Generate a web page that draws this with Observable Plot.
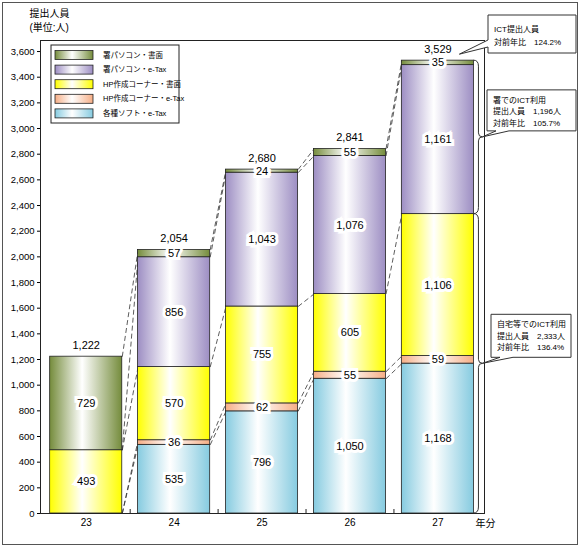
<!DOCTYPE html>
<html><head><meta charset="utf-8">
<script src="https://cdn.jsdelivr.net/npm/d3@7"></script>
<script src="https://cdn.jsdelivr.net/npm/@observablehq/plot@0.6"></script>
<style>
body{margin:0;background:#fff;}
#chart svg{display:block;outline:1px solid #555;outline-offset:-3px;}
</style></head><body><div id="chart"></div>
<script>
// ---- data ----
const years = [23, 24, 25, 26, 27];
const seriesNames = ["各種ソフト・e-Tax", "HP作成コーナー・e-Tax", "HP作成コーナー・書面", "署パソコン・e-Tax", "署パソコン・書面"];
const softETax = [0, 535, 796, 1050, 1168];
const hpETax   = [0, 36, 62, 55, 59];
const hpPaper  = [493, 570, 755, 605, 1106];
const pcETax   = [0, 856, 1043, 1076, 1161];
const pcPaper  = [729, 57, 24, 55, 35];
const totals   = [1222, 2054, 2680, 2841, 3529];
const seriesColors = ["#86cbe0", "#f6ae86", "#ffff00", "#9d8ec3", "#758c3c"];
const yTicks = d3.range(0, 3601, 200);
const yTitle = "提出人員\n(単位:人)";
const xUnit = "年分";
const callouts = [
  ["ICT提出人員", "対前年比\u3000124.2%"],
  ["署でのICT利用", "提出人員\u30001,196人", "対前年比\u3000105.7%"],
  ["自宅等でのICT利用", "提出人員\u30002,333人", "対前年比\u3000136.4%"]
];

const seriesValues = [softETax, hpETax, hpPaper, pcETax, pcPaper];
const FONT = "'Liberation Sans', 'Noto Sans CJK JP', sans-serif";
const HALF = 0.41;
const fmt = d3.format(",");

// stacked segments
const rows = [];
const tops = seriesValues.map(() => []);
years.forEach((yr, i) => {
  let cum = 0;
  seriesValues.forEach((vals, k) => {
    const v = vals[i];
    rows.push({year: yr, k, value: v, y1: cum, y2: cum + v});
    cum += v;
    tops[k][i] = cum;
  });
});
const segs = rows.filter(d => d.value > 0);
const links = [];
seriesValues.forEach((_, k) => {
  for (let i = 0; i < years.length - 1; i++) {
    links.push({x1: years[i] + HALF, x2: years[i + 1] - HALF, y1: tops[k][i], y2: tops[k][i + 1]});
  }
});
const totalRows = years.map((yr, i) => ({year: yr, total: totals[i]}));

function annotations(index, scales, values, dims) {
  const {x, y} = scales;
  const g = d3.create("svg:g").attr("font-family", FONT).attr("fill", "black").attr("text-anchor", "start");
  const ml = dims.marginLeft, mt = dims.marginTop;
  const R = dims.width - dims.marginRight;
  // legend
  const lx = ml + 11, ly = mt + 5;
  g.append("rect").attr("x", lx).attr("y", ly).attr("width", 128).attr("height", 78)
    .attr("fill", "white").attr("stroke", "#222").attr("stroke-width", 1);
  const order = [4, 3, 2, 1, 0];
  order.forEach((k, j) => {
    const cy = ly + 10 + j * 14.6;
    g.append("rect").attr("x", lx + 4).attr("y", cy - 4.5).attr("width", 38).attr("height", 9)
      .attr("fill", `url(#g${k})`).attr("stroke", "#222").attr("stroke-width", 0.8);
    g.append("text").attr("x", lx + 52).attr("y", cy).attr("dy", "0.35em")
      .attr("font-size", 7.5).text(seriesNames[k]);
  });
  // braces
  const xb = x(years[4] + HALF);
  const braces = [[y(totals[4]), y(tops[2][4])], [y(tops[2][4]), y(0)]];
  const mids = [];
  braces.forEach(([ya, yb]) => {
    const m = (ya + yb) / 2; mids.push(m);
    const p = `M${xb},${ya} Q${xb + 5},${ya} ${xb + 5},${ya + 6} V${m - 4} Q${xb + 5},${m} ${xb + 9},${m} Q${xb + 5},${m} ${xb + 5},${m + 4} V${yb - 6} Q${xb + 5},${yb} ${xb},${yb}`;
    g.append("path").attr("d", p).attr("fill", "none").attr("stroke", "#333").attr("stroke-width", 1);
  });
  // callouts
  const tip1 = [x(years[4]) + 22, y(totals[4]) - 6];
  const boxes = [
    {bx: R + 4, by: 15, bw: 88, bh: 38, lh: 13, first: 17, tip: tip1, side: "left"},
    {bx: R + 3, by: mids[0] - 47, bw: 89, bh: 41, lh: 11.5, first: 13, tip: [xb + 9, mids[0]], side: "bottom"},
    {bx: R + 7, by: mids[1] - 49, bw: 80, bh: 43, lh: 11.5, first: 13, tip: [xb + 9, mids[1]], side: "bottom"}
  ];
  boxes.forEach((b, i) => {
    const {bx, by, bw, bh, tip} = b;
    let p;
    if (b.side === "left") {
      p = `M${bx},${by} H${bx + bw} V${by + bh} H${bx} V${by + 32} L${tip[0]},${tip[1]} L${bx},${by + 25} Z`;
    } else {
      p = `M${bx},${by} H${bx + bw} V${by + bh} H${bx + 22} L${tip[0]},${tip[1]} L${bx + 9},${by + bh} H${bx} Z`;
    }
    g.append("path").attr("d", p).attr("fill", "white").attr("stroke", "#333").attr("stroke-width", 1);
    callouts[i].forEach((line, j) => {
      g.append("text").attr("x", bx + 6).attr("y", by + b.first + j * b.lh)
        .attr("font-size", 8).text(line);
    });
  });
  return g.node();
}

const chart = Plot.plot({
  width: 580, height: 547,
  marginLeft: 40, marginRight: 96, marginTop: 40, marginBottom: 34,
  x: {domain: [22.48, 27.53]},
  y: {domain: [0, 3686]},
  color: {type: "identity"},
  style: {fontFamily: FONT, background: "white", color: "black", overflow: "visible"},
  marks: [
    Plot.axisY({ticks: yTicks, tickFormat: fmt, tickSize: 3, tickPadding: 3, fontSize: 9.5, label: null}),
    Plot.axisX({ticks: years, tickFormat: d => String(d), tickSize: 0, tickPadding: 5, fontSize: 10, label: null}),
    Plot.ruleX([23.5, 24.5, 25.5, 26.5], {insetTop: 469, stroke: "#222"}),
    Plot.frame({stroke: "#222"}),
    Plot.link(links, {x1: "x1", x2: "x2", y1: "y1", y2: "y2", stroke: "#333", strokeWidth: 0.8, strokeDasharray: "5,3"}),
    Plot.rect(segs, {x1: d => d.year - HALF, x2: d => d.year + HALF, y1: "y1", y2: "y2",
      fill: d => `url(#g${d.k})`, stroke: "#222", strokeWidth: 0.8}),
    Plot.text(segs, {x: "year", y: d => (d.y1 + d.y2) / 2, text: d => fmt(d.value),
      fontSize: 11, fill: "black", stroke: "white", strokeWidth: 6, strokeLinejoin: "miter"}),
    Plot.text(totalRows, {x: "year", y: "total", text: d => fmt(d.total), dy: -11,
      fontSize: 11, fill: "black", stroke: "white", strokeWidth: 3}),
    Plot.text([yTitle], {frameAnchor: "top-left", dx: -11, dy: -34, text: d => d, textAnchor: "start",
      lineAnchor: "top", lineHeight: 1.45, fontSize: 10}),
    Plot.text([xUnit], {frameAnchor: "bottom-right", dx: -9, dy: 10, text: d => d, textAnchor: "start",
      lineAnchor: "middle", fontSize: 10}),
    annotations
  ]
});

// gradient defs
const defs = d3.select(chart).insert("defs", ":first-child");
seriesColors.forEach((c, k) => {
  const lg = defs.append("linearGradient").attr("id", `g${k}`).attr("x1", 0).attr("x2", 1).attr("y1", 0).attr("y2", 0);
  lg.append("stop").attr("offset", "0%").attr("stop-color", c);
  lg.append("stop").attr("offset", "45%").attr("stop-color", "#ffffff");
  lg.append("stop").attr("offset", "100%").attr("stop-color", c);
});
document.getElementById("chart").appendChild(chart);
</script></body></html>
